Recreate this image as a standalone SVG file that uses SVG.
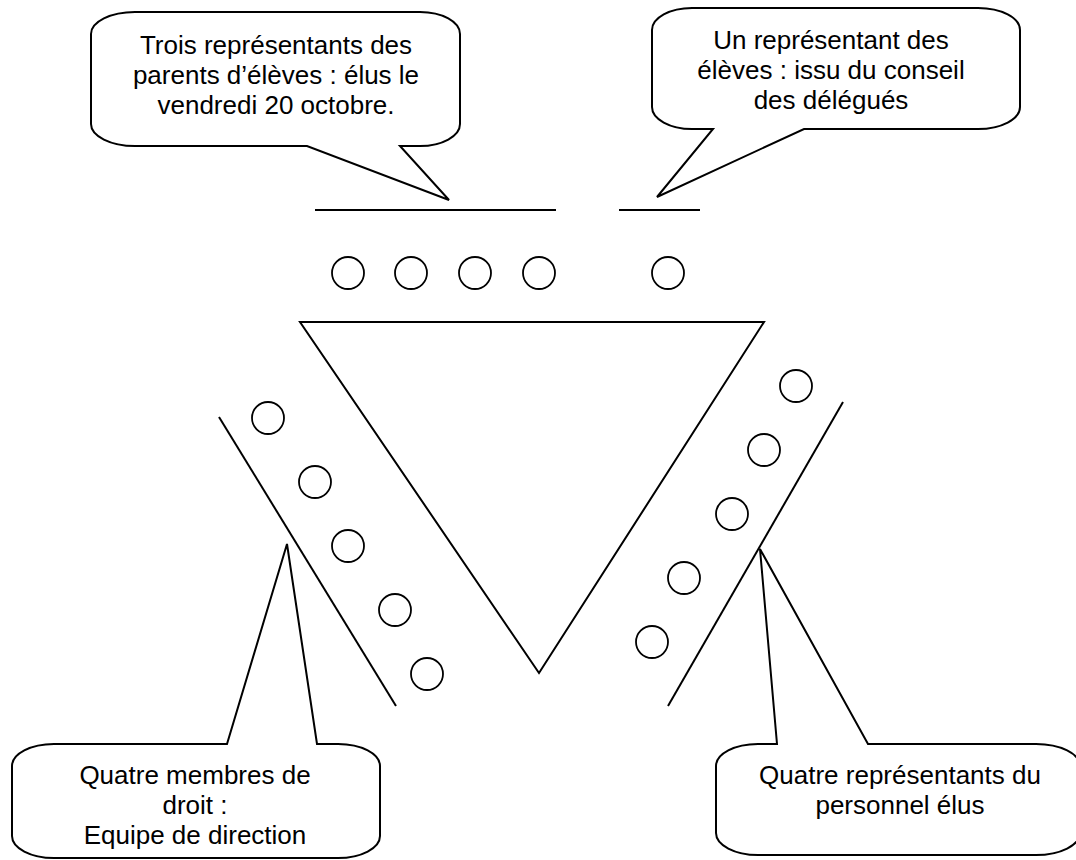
<svg xmlns="http://www.w3.org/2000/svg" width="1076" height="860" viewBox="0 0 1076 860">
<style>
.callout{fill:#ffffff;stroke:#000000;stroke-width:2;stroke-linejoin:miter}
.ln{stroke:#000000;stroke-width:2;fill:none}
.seat{fill:#ffffff;stroke:#000000;stroke-width:1.8}
.tri{fill:#ffffff;stroke:#000000;stroke-width:2}
.lbl{font-family:"Liberation Sans",Arial,sans-serif;font-size:26px;fill:#000000;text-anchor:middle}
</style>
<rect x="0" y="0" width="1076" height="860" fill="#ffffff"/>
<g id="triangle">
<polygon class="tri" points="300,322 764,322 539,673"/>
</g>
<g id="connectors">
<line class="ln" x1="315" y1="210" x2="556" y2="210"/>
<line class="ln" x1="619" y1="210" x2="700" y2="210"/>
<line class="ln" x1="219" y1="417" x2="396" y2="706"/>
<line class="ln" x1="843" y1="402" x2="668" y2="706"/>
</g>
<g id="seats-parents">
<circle class="seat" cx="348" cy="273" r="16"/>
<circle class="seat" cx="411" cy="273" r="16"/>
<circle class="seat" cx="475" cy="273" r="16"/>
<circle class="seat" cx="539" cy="273" r="16"/>
</g>
<g id="seat-eleve">
<circle class="seat" cx="668" cy="273" r="16"/>
</g>
<g id="seats-direction">
<circle class="seat" cx="268" cy="418" r="16"/>
<circle class="seat" cx="315" cy="482" r="16"/>
<circle class="seat" cx="348" cy="546" r="16"/>
<circle class="seat" cx="395" cy="610" r="16"/>
<circle class="seat" cx="427" cy="674" r="16"/>
</g>
<g id="seats-personnel">
<circle class="seat" cx="796" cy="386" r="16"/>
<circle class="seat" cx="764" cy="450" r="16"/>
<circle class="seat" cx="732" cy="514" r="16"/>
<circle class="seat" cx="684" cy="578" r="16"/>
<circle class="seat" cx="652" cy="642" r="16"/>
</g>
<g id="callout-parents">
<path class="callout" d="M 135,12 H 420 A 40 22 0 0 1 460,34 V 124 A 40 22 0 0 1 420,146 H 400 L 449,200 L 307,146 H 135 A 44 22 0 0 1 91,124 V 34 A 44 22 0 0 1 135,12 Z"/>
<text class="lbl" x="276" y="54">Trois représentants des</text>
<text class="lbl" x="276" y="84">parents d’élèves : élus le</text>
<text class="lbl" x="276" y="114">vendredi 20 octobre.</text>
</g>
<g id="callout-eleves">
<path class="callout" d="M 692,8 H 978 A 42 22 0 0 1 1020,30 V 107 A 42 22 0 0 1 978,129 H 804 L 657,197 L 713,129 H 692 A 40 22 0 0 1 652,107 V 30 A 40 22 0 0 1 692,8 Z"/>
<text class="lbl" x="831" y="49">Un représentant des</text>
<text class="lbl" x="831" y="79">élèves : issu du conseil</text>
<text class="lbl" x="831" y="109">des délégués</text>
</g>
<g id="callout-direction">
<path class="callout" d="M 54,744 H 227 L 287,544 L 317,744 H 338 A 42 22 0 0 1 380,766 V 836 A 42 22 0 0 1 338,858 H 54 A 42 22 0 0 1 12,836 V 766 A 42 22 0 0 1 54,744 Z"/>
<text class="lbl" x="195" y="784">Quatre membres de</text>
<text class="lbl" x="195" y="814">droit :</text>
<text class="lbl" x="195" y="844">Equipe de direction</text>
</g>
<g id="callout-personnel">
<path class="callout" d="M 758,744 H 777 L 760,549 L 868,744 H 1036 A 44 22 0 0 1 1080,766 V 833 A 44 22 0 0 1 1036,855 H 758 A 42 22 0 0 1 716,833 V 766 A 42 22 0 0 1 758,744 Z"/>
<text class="lbl" x="900" y="784">Quatre représentants du</text>
<text class="lbl" x="900" y="814">personnel élus</text>
</g>
</svg>
